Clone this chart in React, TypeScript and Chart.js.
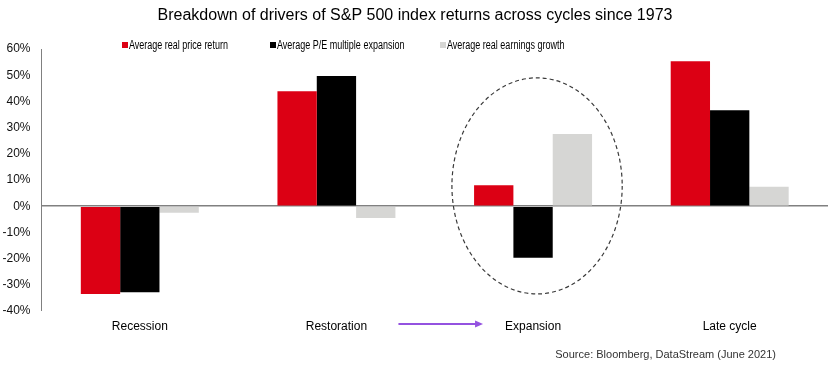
import React, { useEffect, useRef } from "react";
import { Chart, registerables } from "chart.js";

Chart.register(...registerables);

const TITLE = "Breakdown of drivers of S&P 500 index returns across cycles since 1973";
const SOURCE = "Source: Bloomberg, DataStream (June 2021)";
const categories = ["Recession", "Restoration", "Expansion", "Late cycle"];
const seriesNames = [
  "Average real price return",
  "Average P/E multiple expansion",
  "Average real earnings growth",
];
const priceReturn = [-33.5, 43.9, 8.0, 55.3];
const peExpansion = [-32.8, 49.7, -19.7, 36.6];
const earningsGrowth = [-2.5, -4.5, 27.6, 7.4];
const seriesColors = ["#DC0014", "#000000", "#D6D6D4"];
const yMin = -40;
const yMax = 60;
const yStep = 10;

const FONT = '"Liberation Sans", Arial, sans-serif';

const decorPlugin = {
  id: "decor",
  afterDraw(chart: any) {
    const ctx = chart.ctx as CanvasRenderingContext2D;
    const xs = chart.scales.x;
    const ys = chart.scales.y;
    ctx.save();
    // title
    ctx.fillStyle = "#000";
    ctx.font = `16px ${FONT}`;
    ctx.textAlign = "center";
    ctx.textBaseline = "middle";
    ctx.fillText(TITLE, 415, 16);

    // legend (narrow text emulated by horizontal scaling)
    const legendX = [122, 270, 440];
    ctx.font = `12px ${FONT}`;
    ctx.textAlign = "left";
    chart.data.datasets.forEach((ds: any, i: number) => {
      const x = legendX[i];
      ctx.fillStyle = ds.backgroundColor;
      ctx.fillRect(x, 42, 6, 6);
      ctx.fillStyle = "#000";
      ctx.save();
      ctx.translate(x + 7, 45.5);
      ctx.scale(0.75, 1);
      ctx.fillText(ds.label, 0, 0);
      ctx.restore();
    });

    // source
    ctx.font = `11px ${FONT}`;
    ctx.fillStyle = "#333";
    ctx.textAlign = "right";
    ctx.fillText(SOURCE, 776, 355);

    // dashed ellipse around Expansion
    const cx = xs.getPixelForValue(2) + 4;
    const top = ys.getPixelForValue(49);
    const bottom = ys.getPixelForValue(-33.5);
    const cy = (top + bottom) / 2;
    const ry = (bottom - top) / 2;
    const rx = xs.width / categories.length * 0.433;
    ctx.beginPath();
    ctx.setLineDash([4, 3]);
    ctx.strokeStyle = "#3a3a3a";
    ctx.lineWidth = 1.2;
    ctx.ellipse(cx, cy, rx, ry, 0, 0, Math.PI * 2);
    ctx.stroke();
    ctx.setLineDash([]);

    // arrow from Restoration to Expansion
    const ay = 324;
    const ax1 = xs.getPixelForValue(1) + 62;
    const ax2 = xs.getPixelForValue(2) - 50;
    ctx.strokeStyle = "#9452E0";
    ctx.fillStyle = "#9452E0";
    ctx.lineWidth = 2;
    ctx.beginPath();
    ctx.moveTo(ax1, ay);
    ctx.lineTo(ax2 - 7, ay);
    ctx.stroke();
    ctx.beginPath();
    ctx.moveTo(ax2, ay);
    ctx.lineTo(ax2 - 8, ay - 3.5);
    ctx.lineTo(ax2 - 8, ay + 3.5);
    ctx.closePath();
    ctx.fill();
    ctx.restore();
  },
};

export default function App() {
  const ref = useRef<HTMLCanvasElement | null>(null);
  useEffect(() => {
    document.body.style.margin = "0";
    if (!ref.current) return;
    const chart = new Chart(ref.current, {
      type: "bar",
      data: {
        labels: categories,
        datasets: [priceReturn, peExpansion, earningsGrowth].map((d, i) => ({
          label: seriesNames[i],
          data: d,
          backgroundColor: seriesColors[i],
          borderWidth: 0,
          categoryPercentage: 0.6,
          barPercentage: 1.0,
        })),
      },
      options: {
        responsive: false,
        animation: false,
        layout: { padding: { top: 49, left: 0, right: 0, bottom: 0 } },
        plugins: {
          legend: { display: false },
          title: { display: false },
          tooltip: { enabled: false },
        },
        scales: {
          x: {
            grid: { display: false, drawTicks: false },
            border: { display: false },
            ticks: {
              color: "#000",
              font: { family: FONT, size: 12 },
              padding: 8,
              maxRotation: 0,
            },
            afterFit(scale: any) {
              scale.height = 57;
            },
          },
          y: {
            min: yMin,
            max: yMax,
            grid: {
              drawTicks: false,
              color: (c: any) => (c.tick && c.tick.value === 0 ? "#808080" : "rgba(0,0,0,0)"),
              lineWidth: (c: any) => (c.tick && c.tick.value === 0 ? 1.5 : 0),
            },
            border: { display: true, color: "#808080", width: 1 },
            ticks: {
              stepSize: yStep,
              color: "#111",
              font: { family: FONT, size: 12 },
              padding: 11,
              callback: (v: any) => `${v}%`,
            },
            afterFit(scale: any) {
              scale.width = 41.5;
            },
          },
        },
      },
      plugins: [decorPlugin],
    });
    return () => chart.destroy();
  }, []);
  return (
    <div style={{ width: 828, height: 368, position: "relative" }}>
      <canvas ref={ref} width={828} height={368} style={{ display: "block" }} />
    </div>
  );
}
